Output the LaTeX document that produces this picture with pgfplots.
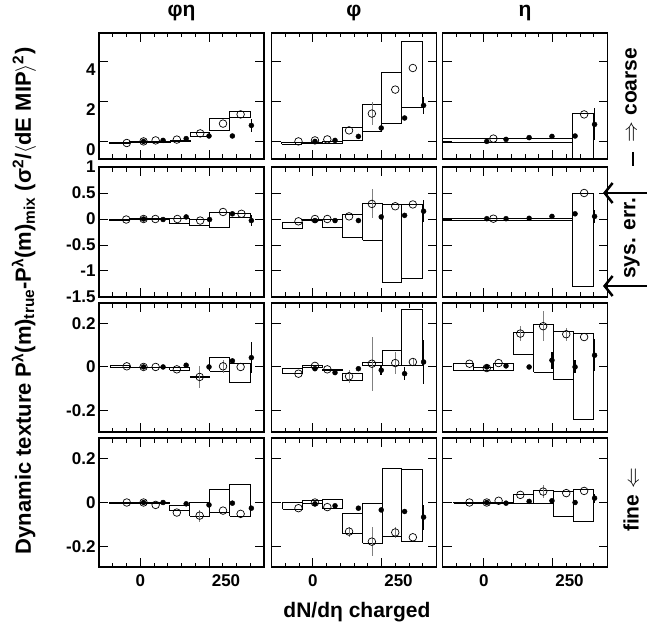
\documentclass[border=0pt]{standalone}
\usepackage{pgfplots}
\pgfplotsset{compat=1.18}
\usepackage{fontspec}
\setmainfont{Liberation Sans}
\usetikzlibrary{arrows.meta}

% one systematic box: x1 x2 y1 y2
\newcommand{\bx}[4]{\addplot[bxs] coordinates {(#1,#3) (#2,#3) (#2,#4) (#1,#4) (#1,#3)};}

\pgfplotsset{
  pan/.style={scale only axis, width=165pt, anchor=north west,
    xmin=-150, xmax=450, xtick={0,250},
    minor xtick={-100,-50,50,100,150,200,300,350,400},
    xticklabels={}, yticklabels={},
    tick align=inside, major tick length=9pt, minor tick length=4.5pt,
    every tick/.style={black, line width=1pt},
    axis line style={line width=1.1pt},
    ticklabel style={font=\fontsize{17}{17}\selectfont\bfseries},
    xticklabel style={yshift=-4pt}},
  r1/.style={height=126pt, ymin=-0.85, ymax=5.45, ytick={0,2,4}},
  r2/.style={height=130pt, ymin=-1.5, ymax=1, ytick={-1.5,-1,-0.5,0,0.5,1}},
  r3/.style={height=129pt, ymin=-0.3, ymax=0.295, ytick={-0.2,0,0.2}},
  r4/.style={height=129pt, ymin=-0.295, ymax=0.295, ytick={-0.2,0,0.2},
    xticklabels={0,{}}, extra x ticks={250}, extra x tick labels={250},
    extra x tick style={xticklabel style={xshift=17pt}}},
  bxs/.style={black, line width=0.8pt, mark=none},
  opn/.style={only marks, mark=o, mark size=3.8pt,
    mark options={black, fill=white, line width=0.7pt},
    error bars/.cd, y dir=both, y explicit, error mark=none,
    error bar style={gray, line width=0.6pt}},
  fld/.style={only marks, mark=*, mark size=2.5pt, black,
    error bars/.cd, y dir=both, y explicit, error mark=none,
    error bar style={black, line width=1.6pt}},
}
\newcommand{\lab}{\fontsize{21}{23}\selectfont\bfseries}

\begin{document}
\begin{tikzpicture}
\path[use as bounding box] (0pt,0pt) rectangle (647pt,-631pt);

% ---------- row 1 (coarse) ----------
\begin{axis}[pan, r1, at={(99pt,-33pt)}, yticklabels={0,2,4},
  yticklabel style={yshift=-8pt}]
\bx{-113}{-40}{-0.06}{-0.03}
\bx{-40}{35}{-0.02}{0.02}
\bx{35}{108}{0.0}{0.04}
\bx{108}{181}{0.05}{0.1}
\bx{181}{251}{0.28}{0.47}
\bx{251}{324}{0.58}{1.17}
\bx{324}{399}{1.22}{1.53}
\addplot[opn] coordinates {(-49,-0.05) +- (0,0) (12,0.03) +- (0,0) (56,0.08) +- (0,0)
  (133,0.12) +- (0,0) (218,0.43) +- (0,0) (301,0.92) +- (0,0) (365,1.38) +- (0,0)};
\addplot[fld] coordinates {(12,0.03) +- (0,0) (83,0.08) +- (0,0) (167,0.17) +- (0,0)
  (250,0.3) +- (0,0) (335,0.3) +- (0,0) (404,0.83) +- (0,0.31)};
\end{axis}

\begin{axis}[pan, r1, at={(271.5pt,-33pt)}]
\bx{-113}{-40}{-0.12}{-0.03}
\bx{-40}{35}{-0.08}{0}
\bx{35}{108}{-0.08}{0.05}
\bx{108}{181}{0.08}{0.75}
\bx{181}{251}{0.55}{1.88}
\bx{251}{324}{0.92}{3.47}
\bx{324}{397}{1.75}{5.03}
\addplot[opn] coordinates {(-52,0.03) +- (0,0) (8,0.08) +- (0,0) (53,0.13) +- (0,0)
  (132,0.58) +- (0,0) (215,1.42) +- (0,0.58) (300,2.62) +- (0,0) (364,3.7) +- (0,0)};
\addplot[fld] coordinates {(8,0.03) +- (0,0) (81,0.08) +- (0,0) (166,0.28) +- (0,0)
  (249,0.7) +- (0,0) (334,1.2) +- (0,0) (403,1.83) +- (0,0.43)};
\end{axis}

\begin{axis}[pan, r1, at={(442.5pt,-33pt)}]
\bx{-160}{323}{0}{0.2}
\bx{323}{399}{-1}{1.45}
\addplot[opn] coordinates {(35,0.17) +- (0,0) (365,1.38) +- (0,0)};
\addplot[fld] coordinates {(11,0.03) +- (0,0) (81,0.13) +- (0,0) (165,0.22) +- (0,0)
  (248,0.28) +- (0,0) (332,0.3) +- (0,0) (403,0.88) +- (0,0.8)};
\end{axis}

% ---------- row 2 ----------
\begin{axis}[pan, r2, at={(99pt,-167pt)}, yticklabels={-1.5,-1,-0.5,0,0.5,1}]
\bx{-113}{-40}{-0.02}{0}
\bx{-40}{35}{-0.01}{0.01}
\bx{35}{107}{-0.01}{0.01}
\bx{107}{180}{-0.09}{0.02}
\bx{180}{252}{-0.13}{0}
\bx{252}{325}{-0.17}{0.135}
\bx{325}{400}{0.04}{0.10}
\addplot[opn] coordinates {(-51,-0.01) +- (0,0) (12,0) +- (0,0) (55,0) +- (0,0)
  (135,0) +- (0,0) (218,-0.03) +- (0,0) (301,0.135) +- (0,0) (368,0.10) +- (0,0)};
\addplot[fld] coordinates {(12,0) +- (0,0) (83,-0.01) +- (0,0) (167,0.04) +- (0,0)
  (252,-0.01) +- (0,0) (335,0.10) +- (0,0) (404,-0.03) +- (0,0.11)};
\end{axis}

\begin{axis}[pan, r2, at={(271.5pt,-167pt)}]
\bx{-110}{-38}{-0.19}{-0.058}
\bx{-38}{35}{-0.02}{0}
\bx{35}{108}{-0.16}{-0.01}
\bx{108}{181}{-0.35}{0.08}
\bx{181}{252}{-0.41}{0.30}
\bx{252}{324}{-1.21}{0.29}
\bx{324}{397}{-1.14}{0.28}
\addplot[opn] coordinates {(-52,-0.045) +- (0,0) (8,0) +- (0,0) (53,0) +- (0,0)
  (132,0.05) +- (0,0) (215,0.29) +- (0,0.28) (300,0.245) +- (0,0) (364,0.28) +- (0,0)};
\addplot[fld] coordinates {(8,-0.03) +- (0,0) (81,-0.03) +- (0,0) (166,-0.03) +- (0,0)
  (249,0.04) +- (0,0) (334,0.07) +- (0,0) (403,0.15) +- (0,0.21)};
\end{axis}

\begin{axis}[pan, r2, at={(442.5pt,-167pt)}]
\bx{-160}{323}{-0.03}{0.013}
\bx{323}{397}{-1.30}{0.5}
\addplot[opn] coordinates {(35,0.006) +- (0,0) (365,0.5) +- (0,0)};
\addplot[fld] coordinates {(11,0.006) +- (0,0) (81,0.006) +- (0,0) (165,0.013) +- (0,0)
  (248,0.05) +- (0,0) (332,0.10) +- (0,0) (403,0.05) +- (0,0.13)};
\end{axis}

% ---------- row 3 ----------
\begin{axis}[pan, r3, at={(99pt,-303pt)}, yticklabels={-0.2,0,0.2}]
\bx{-109}{-39}{-0.002}{0.008}
\bx{-39}{35}{-0.003}{0.0}
\bx{35}{107}{-0.003}{0.0}
\bx{107}{180}{-0.015}{0}
\addplot[black, line width=2pt] coordinates {(180,-0.046) (252,-0.046)};
\bx{252}{325}{-0.02}{0.043}
\bx{325}{400}{-0.072}{0.015}
\addplot[opn] coordinates {(-49,0.003) +- (0,0) (12,0) +- (0,0) (56,0) +- (0,0)
  (133,-0.011) +- (0,0) (216,-0.046) +- (0,0.052) (301,0.003) +- (0,0.03) (365,0) +- (0,0)};
\addplot[fld] coordinates {(12,0) +- (0,0) (83,0) +- (0,0) (167,0.008) +- (0,0)
  (250,0) +- (0,0) (335,0.028) +- (0,0) (404,0.043) +- (0,0.07)};
\end{axis}

\begin{axis}[pan, r3, at={(271.5pt,-303pt)}]
\bx{-110}{-38}{-0.031}{-0.008}
\bx{-38}{35}{0}{0.005}
\bx{35}{108}{-0.015}{-0.011}
\bx{108}{181}{-0.062}{-0.031}
\bx{181}{252}{0.005}{0.023}
\bx{252}{324}{0.005}{0.077}
\bx{324}{397}{0.005}{0.266}
\addplot[opn] coordinates {(-52,-0.031) +- (0,0) (8,0.005) +- (0,0) (53,-0.011) +- (0,0)
  (132,-0.043) +- (0,0.03) (215,0.015) +- (0,0.125) (300,0.018) +- (0,0.05) (364,0.023) +- (0,0.02)};
\addplot[fld] coordinates {(8,-0.008) +- (0,0) (81,-0.026) +- (0,0) (166,-0.008) +- (0,0)
  (249,-0.015) +- (0,0.02) (334,-0.031) +- (0,0.03) (403,0.023) +- (0,0.1)};
\end{axis}

\begin{axis}[pan, r3, at={(442.5pt,-303pt)}]
\bx{-109}{-36}{-0.018}{0.015}
\bx{-36}{36}{-0.015}{0}
\bx{36}{109}{-0.015}{0.018}
\bx{109}{182}{0.057}{0.158}
\bx{182}{252}{-0.023}{0.195}
\bx{252}{325}{-0.058}{0.166}
\bx{325}{397}{-0.242}{0.154}
\addplot[opn] coordinates {(-52,0.015) +- (0,0) (11,-0.005) +- (0,0) (54,0.018) +- (0,0)
  (133,0.154) +- (0,0.035) (216,0.188) +- (0,0.07) (300,0.151) +- (0,0.03) (365,0.138) +- (0,0)};
\addplot[fld] coordinates {(11,0) +- (0,0) (81,0.005) +- (0,0) (165,0) +- (0,0)
  (248,0.031) +- (0,0.04) (332,0) +- (0,0.03) (403,0.054) +- (0,0.073)};
\end{axis}

% ---------- row 4 (fine) ----------
\begin{axis}[pan, r4, at={(99pt,-438pt)}, yticklabels={-0.2,0,0.2}]
\bx{-113}{-40}{-0.002}{0.002}
\bx{-40}{35}{-0.002}{0.002}
\bx{35}{107}{-0.006}{0}
\bx{107}{180}{-0.038}{-0.011}
\bx{180}{252}{-0.064}{0}
\bx{252}{325}{-0.046}{0.061}
\bx{325}{400}{-0.064}{0.084}
\addplot[opn] coordinates {(-49,0) +- (0,0) (12,0) +- (0,0) (56,-0.011) +- (0,0)
  (133,-0.046) +- (0,0) (216,-0.06) +- (0,0.027) (301,-0.037) +- (0,0) (365,-0.052) +- (0,0)};
\addplot[fld] coordinates {(12,0) +- (0,0) (83,0) +- (0,0) (167,-0.006) +- (0,0)
  (250,-0.011) +- (0,0) (335,-0.003) +- (0,0) (404,-0.026) +- (0,0)};
\end{axis}

\begin{axis}[pan, r4, at={(271.5pt,-438pt)}]
\bx{-110}{-38}{-0.031}{0}
\bx{-38}{35}{-0.003}{0.008}
\bx{35}{108}{-0.026}{0.012}
\bx{108}{181}{-0.14}{-0.049}
\bx{181}{252}{-0.186}{-0.003}
\bx{252}{324}{-0.153}{0.157}
\bx{324}{397}{-0.179}{0.15}
\addplot[opn] coordinates {(-52,-0.026) +- (0,0) (8,0) +- (0,0) (53,-0.021) +- (0,0)
  (132,-0.133) +- (0,0.023) (215,-0.179) +- (0,0.065) (300,-0.137) +- (0,0.027) (364,-0.159) +- (0,0)};
\addplot[fld] coordinates {(8,-0.006) +- (0,0) (81,-0.015) +- (0,0) (166,-0.026) +- (0,0)
  (249,-0.034) +- (0,0) (334,-0.041) +- (0,0) (403,-0.067) +- (0,0.057)};
\end{axis}

\begin{axis}[pan, r4, at={(442.5pt,-438pt)}]
\bx{-109}{-36}{-0.002}{0.002}
\bx{-36}{36}{-0.002}{0.002}
\bx{36}{109}{-0.005}{0}
\bx{109}{182}{-0.003}{0.035}
\bx{182}{252}{-0.003}{0.055}
\bx{252}{325}{-0.064}{0.05}
\bx{325}{397}{-0.087}{0.058}
\addplot[opn] coordinates {(-52,0) +- (0,0) (11,0) +- (0,0) (54,0.008) +- (0,0)
  (133,0.035) +- (0,0) (216,0.05) +- (0,0.03) (300,0.043) +- (0,0) (365,0.053) +- (0,0)};
\addplot[fld] coordinates {(11,0) +- (0,0) (81,-0.003) +- (0,0) (165,0.005) +- (0,0)
  (248,0.008) +- (0,0) (332,0) +- (0,0) (403,0.02) +- (0,0.02)};
\end{axis}

% ---------- titles and labels ----------
\node[font=\lab] at (181.5pt,-13pt) {φη};
\node[font=\lab] at (354pt,-13pt) {φ};
\node[font=\lab] at (525pt,-13pt) {η};
\node[font=\fontsize{22}{24}\selectfont\bfseries, rotate=90] at (24pt,-301pt)
  {Dynamic texture P\textsuperscript{λ}(m)\textsubscript{true}-P\textsuperscript{λ}(m)\textsubscript{mix} (σ\textsuperscript{2}/$\langle$dE MIP$\rangle$\textsuperscript{2})};
\node[font=\lab] at (357pt,-612pt) {dN/dη charged};
\node[font=\lab, rotate=90] at (631pt,-95pt) {$\Rightarrow$ coarse};
\node[font=\lab, rotate=90] at (631pt,-500pt) {fine $\Leftarrow$};
\node[font=\lab, rotate=90] at (632pt,-238pt) {sys. err.};
\draw[line width=2.5pt] (633pt,-152pt) -- (633pt,-166pt);
\draw[line width=2.5pt, -{Straight Barb[length=8pt, width=20pt]}] (647pt,-193pt) -- (603pt,-193pt);
\draw[line width=2.5pt, -{Straight Barb[length=8pt, width=20pt]}] (647pt,-286pt) -- (603pt,-286pt);
\end{tikzpicture}
\end{document}
